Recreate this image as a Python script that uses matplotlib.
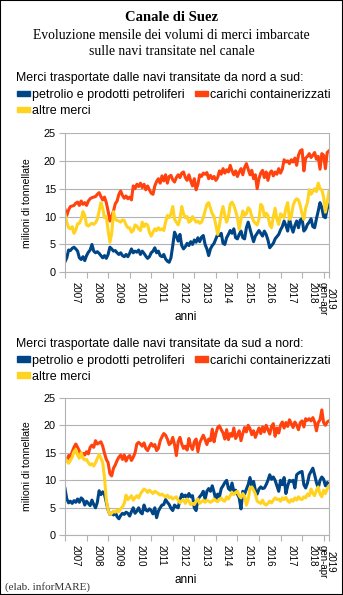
import numpy as np
import matplotlib.pyplot as plt
from matplotlib.patches import Patch, Rectangle

# monthly volumes, million tonnes, Jan 2007 - Apr 2019
years = ["2007", "2008", "2009", "2010", "2011", "2012", "2013",
         "2014", "2015", "2016", "2017", "2018", "2019\ngen-apr"]

# north -> south
ns_petrolio = [
    1.9, 2.6, 4.0, 3.9, 4.3, 4.5, 4.2, 3.8, 2.6, 2.3, 2.8, 2.1,
    3.0, 3.6, 4.0, 5.0, 3.8, 3.5, 3.7, 3.4, 3.0, 2.6, 3.0, 2.5,
    3.2, 4.5, 4.2, 3.8, 3.9, 3.5, 3.2, 3.5, 3.0, 2.8, 3.2, 2.8,
    3.4, 4.2, 3.5, 3.8, 3.6, 4.0, 3.2, 3.8, 3.4, 2.9, 2.5, 2.8,
    3.5, 3.8, 4.4, 3.5, 3.8, 3.0, 2.8, 3.2, 2.4, 2.0, 1.8, 2.6,
    4.8, 7.2, 6.5, 5.6, 6.8, 4.8, 4.2, 4.6, 5.2, 4.8, 5.5, 5.0,
    5.8, 5.4, 6.2, 5.5, 6.3, 6.6, 5.0, 4.2, 3.0, 4.2, 4.8, 5.2,
    6.0, 6.8, 6.6, 7.0, 5.2, 5.0, 6.2, 6.8, 7.5, 7.0, 7.8, 6.2,
    6.0, 6.8, 7.4, 6.2, 6.0, 8.0, 9.0, 7.8, 6.6, 5.5, 6.5, 7.0,
    7.5, 7.0, 6.5, 7.4, 6.8, 5.8, 4.4, 4.8, 5.2, 6.0, 6.4, 6.8,
    7.6, 8.2, 9.2, 8.4, 7.4, 9.6, 8.2, 7.2, 8.4, 9.2, 8.0, 9.4,
    9.6, 7.4, 7.8, 8.6, 9.0, 9.6, 8.2, 8.0, 9.6, 11.0, 12.5, 11.6,
    10.0, 9.8, 11.4, 12.1,
]
ns_container = [
    11.3, 10.2, 11.2, 11.8, 11.9, 12.0, 12.4, 12.6, 12.0, 12.8, 12.2, 12.5,
    12.0, 12.8, 13.2, 13.4, 13.5, 13.6, 14.0, 14.3, 13.6, 13.0, 13.5, 12.5,
    11.0, 9.2, 10.0, 11.0, 12.3, 12.8, 14.0, 14.6, 13.8, 13.3, 13.7, 13.2,
    13.5, 13.0, 15.5, 15.0, 15.8, 15.4, 16.0, 15.2, 15.8, 14.8, 15.5, 14.8,
    14.2, 14.0, 15.5, 16.3, 16.8, 16.0, 17.3, 16.4, 17.5, 16.0, 17.2, 17.4,
    16.6, 16.2, 17.0, 17.5, 17.0, 17.8, 18.0, 17.0, 16.5, 17.5, 16.4, 15.5,
    16.8, 14.8, 15.8, 17.5, 17.2, 17.8, 17.6, 17.9, 16.8, 17.4, 16.8, 17.2,
    16.5, 17.0, 18.2, 17.6, 18.6, 17.8, 18.4, 18.0, 19.2, 18.2, 17.5, 18.2,
    17.2, 18.0, 18.6, 17.5, 18.8, 19.5, 18.5, 17.5, 18.3, 16.8, 17.5, 15.0,
    16.8, 17.8, 18.3, 17.0, 18.0, 16.5, 17.8, 18.2, 17.3, 18.0, 17.6, 18.6,
    17.8, 18.5, 20.2, 19.8, 20.0, 19.5, 20.2, 19.8, 20.5, 19.2, 21.0, 21.8,
    22.0, 18.2, 20.5, 20.8, 21.3, 20.6, 21.0, 21.5, 20.3, 20.8, 18.5, 21.3,
    21.0, 18.6, 21.5, 21.8,
]
ns_altre = [
    10.4, 9.0, 8.0, 7.8, 8.2, 7.0, 7.6, 8.7, 8.8, 9.5, 10.9, 10.2,
    8.5, 8.3, 8.6, 8.8, 8.6, 8.9, 9.5, 11.0, 12.5, 11.5, 9.8, 10.0,
    7.5, 5.4, 7.0, 10.9, 9.5, 9.3, 9.2, 9.0, 9.4, 9.3, 8.5, 8.0,
    8.0, 7.2, 7.5, 8.5, 8.3, 7.8, 7.5, 9.0, 8.2, 8.7, 8.5, 7.2,
    6.5, 7.2, 7.8, 7.5, 8.0, 7.6, 7.8, 7.5, 9.0, 10.2, 9.8, 10.5,
    11.8, 9.5, 9.0, 8.5, 9.5, 11.8, 10.5, 9.8, 10.0, 9.0, 9.2, 10.0,
    9.5, 9.0, 9.2, 8.8, 9.0, 9.8, 11.0, 12.2, 12.5, 11.5, 10.5, 10.0,
    8.5, 6.8, 8.5, 10.5, 11.8, 10.2, 9.0, 10.0, 12.2, 12.6, 12.0, 11.0,
    9.8, 7.7, 9.5, 11.0, 10.2, 10.5, 11.6, 11.2, 10.0, 9.2, 8.8, 8.5,
    9.5, 12.2, 11.8, 10.0, 10.6, 10.2, 8.5, 8.0, 10.0, 11.5, 9.5, 8.6,
    10.5, 10.2, 9.8, 11.5, 12.5, 9.5, 10.0, 12.0, 12.8, 13.2, 13.0, 12.0,
    10.5, 9.5, 11.5, 12.5, 14.8, 14.0, 14.5, 15.0, 14.5, 16.0, 15.0, 14.8,
    13.5, 10.8, 12.5, 14.5,
]

# south -> north
sn_petrolio = [
    8.5, 6.6, 5.9, 6.2, 5.8, 6.3, 6.0, 6.6, 6.0, 6.8, 6.5, 5.5,
    6.2, 5.8, 5.4, 6.4, 5.6, 5.0, 6.0, 8.1, 7.4, 7.9, 7.4, 6.0,
    4.6, 3.8, 4.0, 3.7, 4.2, 3.4, 3.0, 3.6, 4.0, 3.8, 4.2, 4.0,
    3.5, 4.3, 5.0, 4.0, 4.4, 5.0, 4.2, 3.9, 5.5, 4.6, 4.4, 4.8,
    4.5, 3.9, 5.0, 3.2, 4.4, 5.0, 5.5, 5.6, 6.5, 6.0, 5.6, 4.9,
    4.5, 5.5, 5.2, 5.0, 6.4, 7.5, 7.0, 7.3, 6.8, 7.6, 7.0, 7.2,
    5.0, 4.5, 6.5, 7.0, 7.4, 8.0, 6.5, 8.0, 8.5, 8.0, 9.0, 7.8,
    6.5, 7.5, 7.0, 8.5, 9.0, 9.6, 10.0, 8.5, 8.2, 9.5, 8.0, 8.2,
    7.5, 6.8, 4.8, 8.0, 7.5, 8.4, 9.2, 10.5, 9.0, 9.8, 8.2, 7.5,
    8.4, 8.8, 8.5, 8.6, 9.2, 10.0, 11.0, 10.2, 10.6, 10.0, 9.0, 8.0,
    10.0, 9.2, 10.5, 7.6, 9.0, 10.0, 9.8, 10.0, 8.6, 11.0, 11.3, 11.5,
    11.6, 9.2, 8.6, 9.5, 11.0, 11.6, 12.2, 11.0, 9.6, 8.6, 10.0, 10.6,
    10.2, 9.0, 9.6, 9.2,
]
sn_container = [
    13.8, 13.5, 14.5, 14.2, 15.2, 16.0, 16.6, 16.0, 15.3, 14.5, 14.9, 14.6,
    15.2, 14.8, 16.0, 16.4, 16.0, 17.2, 16.6, 16.8, 17.0, 16.2, 14.9, 13.8,
    13.2, 11.2, 10.8, 12.2, 12.8, 13.6, 14.2, 14.6, 13.8, 14.6, 13.5, 14.2,
    14.5, 13.6, 14.2, 15.0, 16.6, 16.9, 16.6, 16.2, 16.8, 15.8, 15.4, 16.1,
    16.7, 16.2, 16.5, 15.4, 15.8, 17.2, 17.9, 18.5, 18.2, 17.5, 16.5, 16.8,
    17.8, 16.5, 14.5, 17.0, 17.8, 16.6, 15.8, 16.2, 15.5, 17.6, 16.2, 15.6,
    17.0, 17.5, 15.2, 16.8, 17.5, 18.2, 17.4, 16.5, 17.5, 17.2, 19.3, 17.0,
    18.5, 19.6, 19.9, 19.2, 18.6, 17.5, 19.2, 17.4, 18.5, 18.0, 19.5, 17.6,
    18.2, 19.0, 17.2, 18.5, 19.6, 18.8, 20.0, 19.4, 18.3, 19.0, 17.8, 18.7,
    19.5, 18.5, 19.7, 18.8, 20.0, 19.2, 18.4, 19.8, 20.3, 18.0, 19.5, 18.6,
    20.0, 20.6, 19.5, 20.5, 19.8, 21.0, 20.3, 19.6, 20.6, 20.0, 19.2, 20.5,
    20.8, 19.7, 21.2, 20.9, 21.2, 20.8, 21.4, 20.6, 19.0, 20.5, 21.0, 22.8,
    20.5, 20.0, 20.6, 20.8,
]
sn_altre = [
    14.0, 13.6, 13.1, 13.6, 14.2, 15.2, 15.6, 14.6, 14.0, 15.0, 14.0, 13.7,
    13.8, 13.2, 12.8, 13.0, 12.6, 13.2, 14.0, 14.7, 14.0, 13.2, 10.5, 6.4,
    4.6, 3.8, 4.0, 4.4, 4.2, 4.6, 4.3, 4.8, 5.2, 5.8, 7.3, 6.5,
    6.8, 7.2, 6.4, 6.8, 7.2, 6.8, 7.5, 8.0, 8.4, 8.2, 7.8, 8.2,
    7.9, 7.6, 8.0, 7.8, 7.6, 7.3, 7.5, 7.2, 7.0, 7.3, 6.8, 7.0,
    6.6, 6.8, 7.0, 6.4, 5.9, 6.3, 6.4, 5.8, 6.6, 6.2, 5.6, 5.8,
    5.6, 6.2, 6.6, 5.8, 6.1, 6.4, 6.0, 6.4, 6.2, 6.0, 6.2, 6.6,
    6.3, 6.1, 6.5, 6.8, 6.3, 6.2, 7.0, 6.6, 7.2, 7.8, 7.4, 7.8,
    8.0, 7.2, 6.8, 7.6, 7.1, 5.5, 6.5, 8.6, 8.8, 8.2, 7.5, 6.2,
    6.0, 5.8, 6.4, 5.7, 5.5, 5.8, 6.2, 5.9, 6.4, 6.8, 6.5, 6.6,
    6.2, 6.8, 6.5, 6.9, 6.3, 6.0, 6.5, 6.2, 6.8, 6.4, 7.0, 6.6,
    6.5, 7.0, 6.8, 7.5, 7.2, 8.4, 7.6, 7.2, 8.2, 8.8, 7.5, 7.0,
    8.2, 7.6, 8.4, 9.0,
]

series_names = ["petrolio e prodotti petroliferi", "carichi containerizzati", "altre merci"]
colors = ["#004586", "#ff420e", "#ffd320"]
gray = "#b3b3b3"

W, H = 343, 595
fig = plt.figure(figsize=(W / 100, H / 100), dpi=100)
sans = "Liberation Sans"
serif = "Liberation Serif"


def fx(px):
    return px / W


def fy(py):
    return 1 - py / H


fig.text(fx(171.5), fy(20.7), "Canale di Suez", family=serif, weight="bold",
         fontsize=10.5, ha="center", va="baseline")
fig.text(fx(171.5), fy(39.3), "Evoluzione mensile dei volumi di merci imbarcate",
         family=serif, fontsize=9.8, ha="center", va="baseline")
fig.text(fx(171.5), fy(55), "sulle navi transitate nel canale",
         family=serif, fontsize=9.8, ha="center", va="baseline")
fig.text(fx(5), fy(589.3), "(elab. inforMARE)", family=serif, fontsize=8,
         ha="left", va="baseline", color="#333333")


def panel(top, bottom, header_y, data):
    fig.text(fx(16), fy(header_y), header_text[data], family=sans, fontsize=8.9,
             ha="left", va="baseline")
    ax = fig.add_axes([fx(65), fy(bottom), fx(329) - fx(65), fy(top) - fy(bottom)])
    x = np.arange(len(panels[data][0]))
    for vals, c in zip(panels[data], colors):
        ax.plot(x, vals, color=c, lw=2.2, solid_joinstyle="round")
    ax.set_xlim(0, len(x) - 1)
    ax.set_ylim(0, 25)
    ax.set_yticks(range(0, 26, 5))
    ax.grid(axis="y", color=gray, lw=0.8)
    ax.set_axisbelow(True)
    for s in ["left", "right", "bottom"]:
        ax.spines[s].set_color(gray)
        ax.spines[s].set_linewidth(0.8)
    ax.spines["top"].set_visible(False)
    bounds = list(range(0, len(x), 12)) + [len(x) - 1]
    mids = [(a + b) / 2 for a, b in zip(bounds[:-1], bounds[1:])]
    ax.set_xticks(bounds)
    ax.set_xticklabels([])
    ax.set_xticks(mids, years, minor=True)
    ax.tick_params(axis="x", which="major", length=4, width=0.8, color=gray)
    ax.tick_params(axis="x", which="minor", length=0, pad=7, labelsize=7,
                   labelrotation=270)
    for lab in ax.get_xticklabels(minor=True):
        lab.set_family(sans)
        lab.set_linespacing(0.7)
    ax.tick_params(axis="y", length=4, width=0.8, color=gray, pad=2.5,
                   labelsize=7.8)
    for lab in ax.get_yticklabels():
        lab.set_family(sans)
    ax.set_xlabel("anni", family=sans, fontsize=8.5, labelpad=2)
    ax.xaxis.set_label_coords((186 - 65) / 264, -(38.5 / (bottom - top)))
    ax.set_ylabel("milioni di tonnellate", family=sans, fontsize=7.6)
    ax.yaxis.set_label_coords(-(65 - 32.5) / 264, 0.5)
    handles = [Patch(color=colors[0]), Patch(color=colors[2]), Patch(color=colors[1])]
    labels = [series_names[0], series_names[2], series_names[1]]
    fig.legend(handles, labels, loc="upper left",
               bbox_to_anchor=(fx(17), fy(header_y + 8)), ncol=2, frameon=False,
               prop={"family": sans, "size": 9}, handlelength=1.04,
               handleheight=0.3, handletextpad=0.16, columnspacing=0.8,
               labelspacing=0.32, borderpad=0, borderaxespad=0)
    return ax


header_text = {
    "ns": "Merci trasportate dalle navi transitate da nord a sud:",
    "sn": "Merci trasportate dalle navi transitate da sud a nord:",
}
panels = {
    "ns": (ns_petrolio, ns_container, ns_altre),
    "sn": (sn_petrolio, sn_container, sn_altre),
}

panel(133, 272.3, 81, "ns")
panel(397.8, 535.3, 346.7, "sn")

fig.patches.append(Rectangle((0, 0), 1, 1, transform=fig.transFigure, fill=False,
                             edgecolor="black", lw=1.5))

fig.savefig("out.png", dpi=100)
